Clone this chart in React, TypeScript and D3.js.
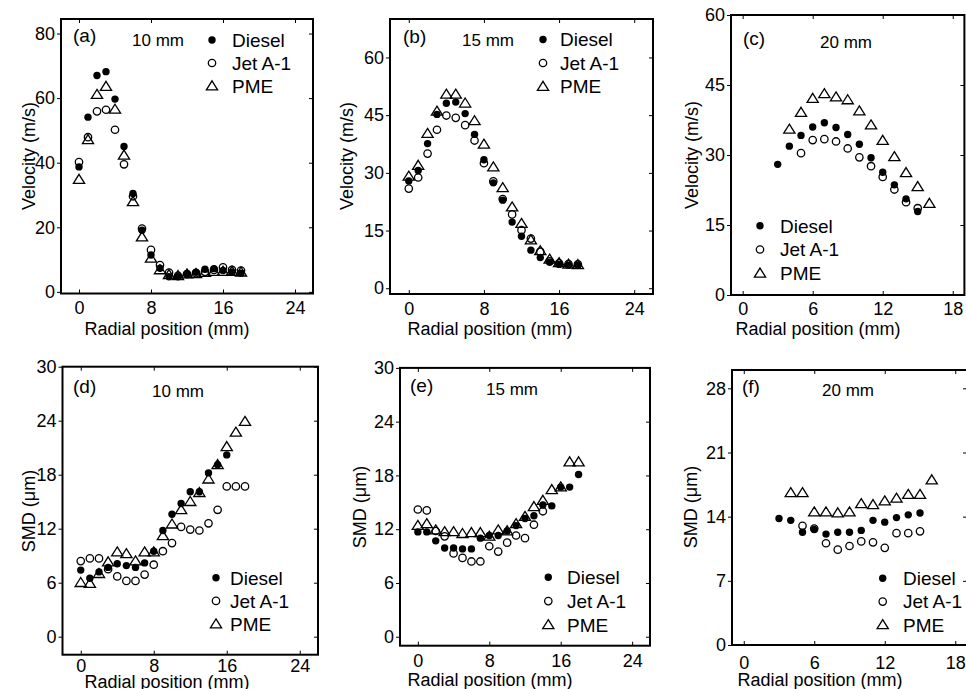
import React, { useEffect, useRef } from 'react';
import * as d3 from 'd3';

const W = 966;
const H = 689;
const FONT = '"Liberation Sans", Arial, Helvetica, sans-serif';

// radial positions (mm)
const pos0to18 = [0, 1, 2, 3, 4, 5, 6, 7, 8, 9, 10, 11, 12, 13, 14, 15, 16, 17, 18];
const pos0to16 = [0, 1, 2, 3, 4, 5, 6, 7, 8, 9, 10, 11, 12, 13, 14, 15, 16];
const pos0to14 = [0, 1, 2, 3, 4, 5, 6, 7, 8, 9, 10, 11, 12, 13, 14];
const pos3to15 = [3, 4, 5, 6, 7, 8, 9, 10, 11, 12, 13, 14, 15];
const pos5to15 = [5, 6, 7, 8, 9, 10, 11, 12, 13, 14, 15];
const pos4to16 = [4, 5, 6, 7, 8, 9, 10, 11, 12, 13, 14, 15, 16];

// (a) velocity, 10 mm
const velDieselA = [38.7, 54.1, 67, 68.2, 59.7, 45, 30.5, 19.1, 11.4, 7.3, 4.7, 4.7, 5.6, 6.1, 7, 7.2, 6.6, 6.1, 5.8];
const velJetA = [40.2, 47.9, 55.9, 56.4, 50.2, 39.5, 29.6, 19.6, 13, 8.3, 6, 5, 5.5, 5.8, 6.2, 6.8, 7.6, 6.8, 6.6];
const velPmeA = [34.8, 47.1, 61.1, 63.6, 56.5, 42.3, 27.9, 17, 10.4, 6.8, 5.3, 5, 5.5, 5.6, 6, 6.3, 6.3, 6.3, 6.1];

// (b) velocity, 15 mm
const velDieselB = [27.9, 30.6, 37.6, 45.2, 48.1, 48.4, 45.4, 40, 33.4, 27.4, 22.9, 17.2, 13.5, 9.9, 8, 6.8, 6.2, 6, 6];
const velJetB = [25.9, 28.8, 35, 41.2, 44.9, 44.3, 42.4, 38.4, 32.5, 27.8, 23.2, 19.2, 15.1, 12.9, 9.5, 7, 6.5, 6.3, 6.2];
const velPmeB = [29.1, 31.9, 40.2, 46, 50.4, 50.4, 48.1, 43.5, 37.4, 31.5, 26.1, 21.1, 16.8, 12.5, 9.7, 7.5, 6.6, 6.2, 6.1];

// (c) velocity, 20 mm
const velDieselC = [28, 31.9, 34.2, 36, 36.9, 35.9, 34.4, 32.3, 29.4, 26.3, 23.6, 20.6, 17.9];
const velJetC = [30.4, 33.2, 33.4, 32.9, 31.4, 29.5, 27.6, 25.3, 22.6, 19.9, 18.6];
const velPmeC = [35.5, 39.1, 42.1, 43.1, 42.4, 41.8, 39.4, 36.4, 33.1, 29.6, 26.2, 23.2, 19.6];

// (d) SMD, 10 mm
const smdDieselD = [7.4, 6.5, 7.2, 7.7, 8.1, 7.9, 7.7, 8.2, 9.5, 11.8, 13.6, 14.8, 16.1, 16.1, 18.2, 19.1, 20.2];
const smdJetD = [8.4, 8.7, 8.7, 7.5, 6.7, 6.2, 6.2, 6.9, 8, 9.5, 10.4, 12.2, 11.9, 11.8, 12.6, 14.1, 16.7, 16.7, 16.7];
const smdPmeD = [6, 5.9, 7, 8.3, 9.4, 9.2, 8.4, 9.4, 9.4, 11.2, 12.5, 14.1, 15, 16, 17.5, 19.1, 21.1, 22.7, 23.9];

// (e) SMD, 15 mm
const smdDieselE = [11.7, 11.7, 10.7, 9.9, 9.9, 9.8, 9.8, 11, 11.3, 11.3, 11.8, 12.4, 13.2, 13.5, 14.7, 14.6, 16.7, 16.7, 18.1];
const smdJetE = [14.2, 14.1, 11.8, 11.2, 9.3, 8.8, 8.4, 8.4, 10.1, 9.5, 10.5, 11.3, 11, 12.5, 14];
const smdPmeE = [12.4, 12.6, 11.9, 11.7, 11.7, 11.5, 11.6, 11.6, 11.2, 11.9, 11.8, 12.6, 13.4, 14.5, 15.2, 16.4, 16.7, 19.5, 19.5];

// (f) SMD, 20 mm
const smdDieselF = [13.8, 13.6, 12.3, 12.6, 12.1, 12.3, 12.3, 12.5, 13.6, 13.4, 13.9, 14.2, 14.4];
const smdJetF = [13, 12.7, 11.1, 10.4, 10.8, 11.3, 11.2, 10.6, 12.2, 12.2, 12.4];
const smdPmeF = [16.6, 16.6, 14.5, 14.5, 14.4, 14.5, 15.4, 15.3, 15.7, 16, 16.4, 16.4, 18];

const fuels = ['Diesel', 'Jet A-1', 'PME'];
const xTicks24 = [0, 8, 16, 24];
const xTicks18 = [0, 6, 12, 18];
const yTicksVelA = [0, 20, 40, 60, 80];
const yTicksVel = [0, 15, 30, 45, 60];
const yTicksSmd = [0, 6, 12, 18, 24, 30];
const yTicksSmdF = [0, 7, 14, 21, 28];

const panels = [
  {
    tag: '(a)', dist: '10 mm', yTitle: 'Velocity (m/s)',
    xDom: [-2, 26], xRng: [61, 313], yDom: [-0.5, 84.5], yRng: [293.5, 19],
    xTicks: xTicks24, yTicks: yTicksVelA, xPad: 8,
    tagXY: [73, 42], distXY: [132, 46], yTitleXY: [35, 156], xTitleXY: [167, 335],
    legend: { mx: 212, y0: 40, dy: 23, tx: 232 },
    series: [[pos0to18, velDieselA], [pos0to18, velJetA], [pos0to18, velPmeA]],
  },
  {
    tag: '(b)', dist: '15 mm', yTitle: 'Velocity (m/s)',
    xDom: [-2, 26], xRng: [390, 653], yDom: [-1.5, 70], yRng: [294, 19],
    xTicks: xTicks24, yTicks: yTicksVel, xPad: 8,
    tagXY: [403, 43], distXY: [462, 46], yTitleXY: [353, 156], xTitleXY: [490, 335],
    legend: { mx: 543, y0: 39.5, dy: 23.5, tx: 560 },
    series: [[pos0to18, velDieselB], [pos0to18, velJetB], [pos0to18, velPmeB]],
  },
  {
    tag: '(c)', dist: '20 mm', yTitle: 'Velocity (m/s)',
    xDom: [-1, 19], xRng: [731, 964.4], yDom: [0, 60], yRng: [295, 15],
    xTicks: xTicks18, yTicks: yTicksVel, xPad: 7,
    tagXY: [743, 44.5], distXY: [820, 48], yTitleXY: [698, 155], xTitleXY: [818, 335],
    legend: { mx: 760, y0: 225.7, dy: 23.8, tx: 780 },
    series: [[pos3to15, velDieselC], [pos5to15, velJetC], [pos4to16, velPmeC]],
  },
  {
    tag: '(d)', dist: '10 mm', yTitle: 'SMD (\u03bcm)',
    xDom: [-2, 26], xRng: [62.5, 318], yDom: [-2, 30], yRng: [654.7, 366.7],
    xTicks: xTicks24, yTicks: yTicksSmd, xPad: 5,
    tagXY: [73, 393], distXY: [152, 397], yTitleXY: [35, 511], xTitleXY: [167, 688],
    legend: { mx: 216, y0: 577.7, dy: 23.2, tx: 230 },
    series: [[pos0to16, smdDieselD], [pos0to18, smdJetD], [pos0to18, smdPmeD]],
  },
  {
    tag: '(e)', dist: '15 mm', yTitle: 'SMD (\u03bcm)',
    xDom: [-2, 26], xRng: [400, 650], yDom: [-1, 30], yRng: [645.7, 367.9],
    xTicks: xTicks24, yTicks: yTicksSmd, xPad: 9,
    tagXY: [410, 392], distXY: [486, 395], yTitleXY: [366, 507], xTitleXY: [490, 686],
    legend: { mx: 548.3, y0: 577.3, dy: 23.8, tx: 567 },
    series: [[pos0to18, smdDieselE], [pos0to14, smdJetE], [pos0to18, smdPmeE]],
  },
  {
    tag: '(f)', dist: '20 mm', yTitle: 'SMD (\u03bcm)',
    xDom: [-1, 19], xRng: [732, 967], yDom: [0, 30], yRng: [645, 370],
    xTicks: xTicks18, yTicks: yTicksSmdF, xPad: 11,
    tagXY: [742, 393], distXY: [822, 396], yTitleXY: [697, 507], xTitleXY: [820, 686],
    legend: { mx: 882.7, y0: 578.3, dy: 23.3, tx: 903 },
    series: [[pos3to15, smdDieselF], [pos5to15, smdJetF], [pos4to16, smdPmeF]],
  },
];

const triPath = 'M0,-5.2L5.6,3.8L-5.6,3.8Z';

function drawMarkers(g, kind, pts) {
  if (kind === 0) {
    g.selectAll('.m0')
      .data(pts)
      .join('circle')
      .attr('class', 'm0')
      .attr('cx', d => d[0])
      .attr('cy', d => d[1])
      .attr('r', 3.7)
      .attr('fill', '#000');
  } else if (kind === 1) {
    g.selectAll('.m1')
      .data(pts)
      .join('circle')
      .attr('class', 'm1')
      .attr('cx', d => d[0])
      .attr('cy', d => d[1])
      .attr('r', 3.7)
      .attr('fill', 'none')
      .attr('stroke', '#000')
      .attr('stroke-width', 1.3);
  } else {
    g.selectAll('.m2')
      .data(pts)
      .join('path')
      .attr('class', 'm2')
      .attr('d', triPath)
      .attr('transform', d => `translate(${d[0]},${d[1]})`)
      .attr('fill', 'none')
      .attr('stroke', '#000')
      .attr('stroke-width', 1.3)
      .attr('stroke-linejoin', 'miter');
  }
}

const App = () => {
  const ref = useRef(null);

  useEffect(() => {
    const svg = d3.select(ref.current);
    svg.selectAll('*').remove();

    panels.forEach(p => {
      const x = d3.scaleLinear().domain(p.xDom).range(p.xRng);
      const y = d3.scaleLinear().domain(p.yDom).range(p.yRng);
      const g = svg.append('g');

      // axes with ticks
      const styleAxis = sel => {
        sel.select('.domain').remove();
        sel.selectAll('line').attr('stroke', '#000').attr('stroke-width', 1);
        sel.selectAll('text')
          .attr('fill', '#000')
          .style('font-family', FONT)
          .style('font-size', '18px');
      };

      g.append('g')
        .attr('transform', `translate(0,${p.yRng[0]})`)
        .call(d3.axisBottom(x).tickValues(p.xTicks).tickSizeInner(-4).tickSizeOuter(0).tickPadding(p.xPad))
        .call(styleAxis);
      g.append('g')
        .attr('transform', `translate(0,${p.yRng[1]})`)
        .call(d3.axisTop(x).tickValues(p.xTicks).tickSizeInner(-4).tickSizeOuter(0).tickFormat(() => ''))
        .call(styleAxis);
      g.append('g')
        .attr('transform', `translate(${p.xRng[0]},0)`)
        .call(d3.axisLeft(y).tickValues(p.yTicks).tickSizeInner(4).tickSizeOuter(0).tickPadding(2))
        .call(styleAxis);
      g.append('g')
        .attr('transform', `translate(${p.xRng[1]},0)`)
        .call(d3.axisRight(y).tickValues(p.yTicks).tickSizeInner(-4).tickSizeOuter(0).tickFormat(() => ''))
        .call(styleAxis);

      g.append('rect')
        .attr('x', p.xRng[0])
        .attr('y', p.yRng[1])
        .attr('width', p.xRng[1] - p.xRng[0])
        .attr('height', p.yRng[0] - p.yRng[1])
        .attr('fill', 'none')
        .attr('stroke', '#000')
        .attr('stroke-width', 2);

      // data points
      p.series.forEach((s, k) => {
        const pts = s[0].map((xv, i) => [x(xv), y(s[1][i])]);
        drawMarkers(g.append('g'), k, pts);
      });

      // legend
      fuels.forEach((name, k) => {
        const ly = p.legend.y0 + k * p.legend.dy;
        drawMarkers(g.append('g'), k, [[p.legend.mx, ly]]);
        g.append('text')
          .attr('x', p.legend.tx)
          .attr('y', ly + 6.8)
          .style('font-family', FONT)
          .style('font-size', '19px')
          .text(name);
      });

      // annotations
      g.append('text')
        .attr('x', p.tagXY[0])
        .attr('y', p.tagXY[1])
        .style('font-family', FONT)
        .style('font-size', '19px')
        .text(p.tag);
      g.append('text')
        .attr('x', p.distXY[0])
        .attr('y', p.distXY[1])
        .style('font-family', FONT)
        .style('font-size', '17px')
        .text(p.dist);

      g.append('text')
        .attr('transform', `translate(${p.yTitleXY[0]},${p.yTitleXY[1]}) rotate(-90)`)
        .attr('text-anchor', 'middle')
        .style('font-family', FONT)
        .style('font-size', '18px')
        .text(p.yTitle);
      g.append('text')
        .attr('x', p.xTitleXY[0])
        .attr('y', p.xTitleXY[1])
        .attr('text-anchor', 'middle')
        .style('font-family', FONT)
        .style('font-size', '18px')
        .text('Radial position (mm)');
    });
  }, []);

  return (
    <svg
      ref={ref}
      width={W}
      height={H}
      style={{ position: 'absolute', left: 0, top: 0, background: '#fff' }}
    />
  );
};

export default App;
